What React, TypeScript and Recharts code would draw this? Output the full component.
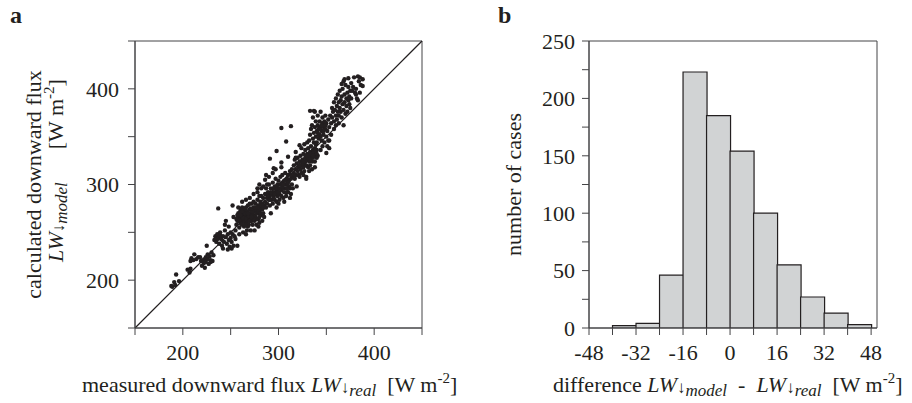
import React from 'react';
import {
  ScatterChart,
  Scatter,
  XAxis,
  YAxis,
  ReferenceLine,
  ReferenceArea,
  BarChart,
  Bar,
  Label,
} from 'recharts';

const FONT = '"Liberation Serif", "Times New Roman", Times, serif';
const INK = '#231f20';
const FRAME = '#444446';
const BAR_FILL = '#d1d3d4';

// ---------- panel a: scatter data (measured, model) ----------
const fluxAxisTicks = [150, 200, 250, 300, 350, 400, 450];
const fluxTickLabels = [200, 300, 400];
const fluxDomain = [150, 450];

const fluxPairs: [number, number][] = [
  [188, 194], [189, 193], [191, 198], [193, 206], [192, 195], [196, 199],
  [205, 211], [207, 208], [208, 212], [208, 220], [209, 223], [211, 221], [212, 227], [214, 222],
  [216, 224], [218, 224], [219, 220], [220, 215], [221, 221], [222, 218], [223, 213], [223, 222],
  [224, 224], [225, 236], [226, 227], [227, 217], [228, 225], [229, 221], [230, 229], [231, 220],
  [232, 226], [229, 219], [226, 222], [224, 219],
  [233, 242], [234, 246], [235, 240], [236, 248], [237, 275], [237, 244], [238, 238], [239, 250],
  [240, 243], [241, 236], [242, 246], [243, 240], [244, 252], [245, 245], [245, 262], [246, 238],
  [247, 248], [248, 242], [249, 235], [250, 250], [250, 244], [251, 240], [252, 248], [252, 278],
  [253, 266], [253, 236], [254, 246], [255, 243], [248, 256], [244, 258], [242, 233], [239, 247],
  [236, 243], [247, 232], [251, 233], [255, 252], [257, 236],
  [256, 258], [257, 262], [258, 266], [258, 270], [259, 255], [260, 264], [260, 272], [261, 259],
  [262, 268], [262, 276], [263, 262], [264, 256], [264, 270], [265, 265], [265, 275], [266, 260],
  [266, 268], [267, 272], [267, 252], [268, 264], [268, 278], [269, 258], [269, 270], [270, 266],
  [270, 274], [271, 262], [271, 252], [272, 270], [272, 280], [273, 264], [273, 258], [274, 276],
  [274, 268], [275, 262], [275, 272], [276, 280], [276, 266], [277, 258], [277, 274], [278, 270],
  [278, 284], [279, 264], [279, 278], [280, 272], [280, 260], [281, 282], [281, 276], [282, 268],
  [282, 288], [283, 274], [283, 280], [284, 270], [284, 286], [285, 278], [285, 266], [259, 248],
  [263, 250], [266, 248], [262, 282], [258, 276], [261, 274], [266, 284], [270, 286], [274, 290],
  [278, 292], [282, 296], [268, 256], [272, 262], [276, 272], [280, 288], [264, 262], [267, 266],
  [271, 270], [257, 268], [260, 260], [263, 270], [265, 258], [269, 262], [273, 272], [277, 264],
  [275, 252], [279, 256], [283, 262],
  [259, 263], [261, 267], [263, 265], [265, 270], [267, 262], [269, 267], [271, 275], [273, 268],
  [275, 266], [277, 270], [279, 272], [281, 270], [262, 258], [266, 264], [270, 262], [274, 264],
  [278, 276], [282, 278], [256, 264], [260, 268], [264, 274], [268, 270], [272, 266], [276, 276],
  [280, 266], [284, 276], [258, 262], [262, 272], [266, 276], [270, 280], [274, 282],
  [286, 282], [286, 290], [287, 276], [287, 296], [288, 286], [288, 280], [289, 292], [290, 284],
  [290, 300], [291, 288], [291, 278], [292, 296], [293, 284], [293, 290], [294, 302], [294, 280],
  [295, 292], [295, 287], [296, 298], [296, 284], [297, 290], [297, 306], [298, 294], [298, 282],
  [299, 300], [299, 288], [300, 296], [300, 304], [301, 290], [301, 284], [302, 300], [302, 308],
  [303, 294], [303, 288], [304, 302], [304, 310], [305, 296], [305, 286], [306, 304], [306, 292],
  [307, 300], [307, 312], [308, 296], [308, 288], [309, 306], [309, 300], [310, 292], [310, 310],
  [311, 304], [311, 298], [312, 314], [312, 296], [313, 306], [313, 290], [314, 300], [314, 316],
  [315, 308], [315, 296], [292, 270], [298, 276], [288, 300], [294, 312], [297, 316], [303, 318],
  [300, 280], [306, 282], [312, 286], [309, 292], [286, 305], [290, 308], [284, 298],
  [289, 288], [292, 292], [295, 296], [298, 298], [301, 296], [304, 298], [307, 304], [310, 302],
  [313, 310], [291, 284], [296, 290], [300, 292], [305, 300], [309, 296],
  [291, 327], [287, 310], [295, 317], [298, 335], [303, 323], [303, 359], [308, 345], [310, 329],
  [313, 361], [318, 328], [322, 341], [280, 300], [278, 296],
  [316, 312], [316, 320], [317, 306], [317, 326], [318, 316], [318, 310], [319, 322], [320, 314],
  [320, 328], [321, 318], [321, 310], [322, 324], [323, 316], [323, 330], [324, 320], [324, 312],
  [325, 326], [326, 318], [326, 332], [327, 322], [327, 314], [328, 328], [328, 336], [329, 320],
  [329, 308], [330, 326], [330, 332], [331, 318], [331, 338], [332, 324], [332, 330], [333, 334],
  [333, 320], [334, 328], [334, 340], [335, 324], [335, 332], [336, 336], [336, 328], [337, 330],
  [337, 344], [338, 324], [338, 338], [339, 332], [339, 342], [340, 328], [340, 336], [319, 298],
  [322, 308], [326, 310], [329, 306], [332, 314], [335, 316], [338, 318], [318, 334], [324, 338],
  [327, 342], [330, 344], [341, 330],
  [325, 322], [328, 324], [331, 328], [334, 332], [337, 334], [340, 332], [333, 326], [336, 330],
  [339, 336], [329, 330], [326, 324], [322, 320],
  [332, 346], [333, 352], [334, 358], [335, 362], [336, 348], [336, 370], [337, 354], [338, 360],
  [338, 376], [339, 350], [339, 366], [340, 344], [340, 356], [341, 362], [341, 372], [342, 348],
  [342, 358], [343, 366], [343, 352], [344, 376], [344, 360], [345, 346], [345, 356], [346, 364],
  [346, 370], [347, 352], [347, 360], [348, 366], [348, 344], [349, 358], [349, 372], [350, 350],
  [350, 364], [351, 356], [351, 340], [352, 368], [352, 346], [353, 360], [353, 338], [354, 372],
  [355, 364], [355, 352], [337, 377], [333, 377], [346, 340], [350, 333], [344, 336], [353, 346],
  [341, 354], [343, 358], [345, 362], [347, 356], [349, 362], [344, 350], [342, 352],
  [356, 370], [356, 380], [357, 376], [358, 386], [358, 366], [359, 378], [360, 372], [360, 390],
  [361, 382], [361, 368], [362, 376], [362, 394], [363, 386], [363, 372], [364, 380], [364, 398],
  [365, 388], [365, 376], [366, 392], [366, 370], [367, 384], [367, 400], [368, 378], [368, 362],
  [369, 394], [369, 386], [370, 374], [370, 404], [371, 390], [371, 382], [372, 396], [372, 376],
  [373, 388], [373, 402], [374, 392], [374, 384], [375, 398], [375, 380], [368, 408], [366, 405],
  [369, 410], [360, 362], [363, 364], [358, 358],
  [373, 411], [376, 406], [378, 402], [380, 396], [381, 400], [382, 390], [383, 413], [384, 408],
  [385, 412], [386, 404], [388, 410], [388, 403], [379, 412], [377, 398], [383, 388], [381, 394],
  [376, 390], [385, 396],
];

// ---------- panel b: histogram data ----------
const binCenters = [-36, -28, -20, -12, -4, 4, 12, 20, 28, 36, 44];
const caseCounts = [2, 4, 46, 223, 185, 154, 100, 55, 27, 13, 3];
const diffAxisTicks = [-48, -40, -32, -24, -16, -8, 0, 8, 16, 24, 32, 40, 48];
const diffDomain = [-48, 50];
const caseAxisTicks = [0, 25, 50, 75, 100, 125, 150, 175, 200, 225, 250];
const caseDomain = [0, 250];

const scatterData = fluxPairs.map(([measured, model]) => ({ measured, model }));
const histData = binCenters.map((center, i) => ({ center, count: caseCounts[i] }));

const tickStyle = { fill: INK, fontSize: 22, fontFamily: FONT };
const NB = '\u00a0';
const SUB = 17;

const Dot = (props: any) => <circle cx={props.cx} cy={props.cy} r={2.2} fill={INK} />;

const XLabelA = (props: any) => {
  const { y } = props.viewBox;
  return (
    <text x={82} y={y + 64} textAnchor="start" fontFamily={FONT} fontSize={22} fill={INK}>
      <tspan>{'measured downward flux' + NB}</tspan>
      <tspan fontStyle="italic">LW</tspan>
      <tspan fontSize={SUB} dy={1}>↓</tspan>
      <tspan fontSize={SUB} fontStyle="italic" dy={3}>real</tspan>
      <tspan dy={-4}>{NB + NB + '[W m'}</tspan>
      <tspan fontSize={15} dy={-9}>-2</tspan>
      <tspan dy={9}>]</tspan>
    </text>
  );
};

const YLabelA = (props: any) => {
  const { x, y, height } = props.viewBox;
  const x1 = x + 41;
  const y1 = y + height / 2;
  const x2 = x + 63;
  const y2 = 262;
  return (
    <g>
      <text x={x1} y={y1} transform={`rotate(-90, ${x1}, ${y1})`} textAnchor="middle" fontFamily={FONT} fontSize={22} fill={INK}>
        calculated downward flux
      </text>
      <text x={x2} y={y2} transform={`rotate(-90, ${x2}, ${y2})`} textAnchor="start" fontFamily={FONT} fontSize={22} fill={INK}>
        <tspan fontStyle="italic">LW</tspan>
        <tspan fontSize={SUB} dy={1}>↓</tspan>
        <tspan fontSize={SUB} fontStyle="italic" dy={3}>model</tspan>
        <tspan dy={-4} dx={22}>{NB + NB + '[W m'}</tspan>
        <tspan fontSize={15} dy={-9}>-2</tspan>
        <tspan dy={9}>]</tspan>
      </text>
    </g>
  );
};

const XLabelB = (props: any) => {
  const { y } = props.viewBox;
  return (
    <text x={93} y={y + 64} textAnchor="start" fontFamily={FONT} fontSize={22} fill={INK}>
      <tspan>{'difference' + NB}</tspan>
      <tspan fontStyle="italic">LW</tspan>
      <tspan fontSize={SUB} dy={1}>↓</tspan>
      <tspan fontSize={SUB} fontStyle="italic" dy={3}>model</tspan>
      <tspan dy={-4}>{NB + NB + '-' + NB + NB}</tspan>
      <tspan fontStyle="italic">LW</tspan>
      <tspan fontSize={SUB} dy={1}>↓</tspan>
      <tspan fontSize={SUB} fontStyle="italic" dy={3}>real</tspan>
      <tspan dy={-4}>{NB + NB + '[W m'}</tspan>
      <tspan fontSize={15} dy={-9}>-2</tspan>
      <tspan dy={9}>]</tspan>
    </text>
  );
};

const YLabelB = (props: any) => {
  const { x, y, height } = props.viewBox;
  const x1 = x + 61;
  const y1 = y + height / 2;
  return (
    <text x={x1} y={y1} transform={`rotate(-90, ${x1}, ${y1})`} textAnchor="middle" fontFamily={FONT} fontSize={22} fill={INK}>
      number of cases
    </text>
  );
};

const ScatterPanel = () => (
  <ScatterChart width={460} height={403} margin={{ top: 41, right: 38, bottom: 0, left: 0 }}>
    <XAxis
      type="number"
      dataKey="measured"
      domain={fluxDomain}
      ticks={fluxAxisTicks}
      interval={0}
      tickFormatter={(v: number) => (fluxTickLabels.includes(v) ? String(v) : '')}
      height={75}
      tickSize={7}
      tickMargin={9}
      tick={tickStyle}
      axisLine={{ stroke: FRAME }}
      tickLine={{ stroke: FRAME }}
      allowDataOverflow
    >
      <Label content={<XLabelA />} />
    </XAxis>
    <YAxis
      type="number"
      dataKey="model"
      domain={fluxDomain}
      ticks={fluxAxisTicks}
      interval={0}
      tickFormatter={(v: number) => (fluxTickLabels.includes(v) ? String(v) : '')}
      width={135}
      tickSize={7}
      tickMargin={9}
      tick={tickStyle}
      axisLine={{ stroke: FRAME }}
      tickLine={{ stroke: FRAME }}
      allowDataOverflow
    >
      <Label content={<YLabelA />} />
    </YAxis>
    <ReferenceArea x1={150} x2={450} y1={150} y2={450} fill="none" stroke={FRAME} strokeWidth={1} />
    <ReferenceLine segment={[{ x: 150, y: 150 }, { x: 450, y: 450 }]} stroke={INK} strokeWidth={1.2} />
    <Scatter data={scatterData} fill={INK} shape={<Dot />} isAnimationActive={false} />
  </ScatterChart>
);

const HistPanel = () => (
  <BarChart
    width={452}
    height={403}
    data={histData}
    margin={{ top: 41, right: 35, bottom: 0, left: 0 }}
    barCategoryGap={0}
    barGap={0}
  >
    <XAxis
      type="number"
      dataKey="center"
      domain={diffDomain}
      ticks={diffAxisTicks}
      interval={0}
      tickFormatter={(v: number) => (v % 16 === 0 ? String(v) : '')}
      height={75}
      tickSize={7}
      tickMargin={9}
      tick={tickStyle}
      axisLine={{ stroke: FRAME }}
      tickLine={{ stroke: FRAME }}
      allowDataOverflow
    >
      <Label content={<XLabelB />} />
    </XAxis>
    <YAxis
      type="number"
      domain={caseDomain}
      ticks={caseAxisTicks}
      interval={0}
      tickFormatter={(v: number) => (v % 50 === 0 ? String(v) : '')}
      width={129}
      tickSize={7}
      tickMargin={7}
      tick={tickStyle}
      axisLine={{ stroke: FRAME }}
      tickLine={{ stroke: FRAME }}
      allowDataOverflow
    >
      <Label content={<YLabelB />} />
    </YAxis>
    <ReferenceArea x1={-48} x2={50} y1={0} y2={250} fill="none" stroke={FRAME} strokeWidth={1} />
    <Bar dataKey="count" fill={BAR_FILL} stroke={INK} strokeWidth={1.2} isAnimationActive={false} />
  </BarChart>
);

export default function App() {
  return (
    <div style={{ position: 'absolute', left: 0, top: 0, width: 912, height: 403, background: '#fff', overflow: 'hidden' }}>
      <div style={{ position: 'absolute', left: 0, top: 0 }}>
        <ScatterPanel />
      </div>
      <div style={{ position: 'absolute', left: 460, top: 0 }}>
        <HistPanel />
      </div>
      <svg width={912} height={403} style={{ position: 'absolute', left: 0, top: 0, pointerEvents: 'none' }}>
        <text x={10} y={23} fontFamily={FONT} fontWeight="bold" fontSize={24} fill={INK}>a</text>
        <text x={498} y={23} fontFamily={FONT} fontWeight="bold" fontSize={24} fill={INK}>b</text>
      </svg>
    </div>
  );
}
